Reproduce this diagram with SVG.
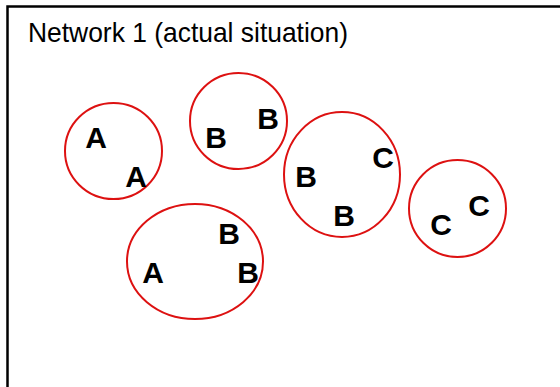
<svg xmlns="http://www.w3.org/2000/svg" width="560" height="387" viewBox="0 0 560 387">
<style>
.g{fill:none;stroke:#dd1111;stroke-width:2}
.l{font-family:"Liberation Sans",Arial,sans-serif;font-size:30px;font-weight:bold;fill:#000;text-anchor:middle}
.t{font-family:"Liberation Sans",Arial,sans-serif;font-size:28px;fill:#000}
</style>
<rect width="560" height="387" fill="#fff"/>
<path d="M7.5 387 V6.5 H560" fill="none" stroke="#000" stroke-width="2.5"/>
<text class="t" x="28" y="42" textLength="320" lengthAdjust="spacingAndGlyphs">Network 1 (actual situation)</text>
<g id="groupA">
<ellipse class="g" cx="113.5" cy="151" rx="48.5" ry="48"/>
<text class="l" x="96" y="148">A</text>
<text class="l" x="136" y="187">A</text>
</g>
<g id="groupBB">
<ellipse class="g" cx="238.5" cy="121" rx="48.5" ry="48"/>
<text class="l" x="216" y="148">B</text>
<text class="l" x="268" y="129">B</text>
</g>
<g id="groupBBC">
<ellipse class="g" cx="342" cy="174.5" rx="58" ry="62.5"/>
<text class="l" x="306" y="187">B</text>
<text class="l" x="344" y="226">B</text>
<text class="l" x="383" y="168">C</text>
</g>
<g id="groupCC">
<ellipse class="g" cx="457.5" cy="208.5" rx="48.5" ry="48.5"/>
<text class="l" x="441" y="235">C</text>
<text class="l" x="479" y="216">C</text>
</g>
<g id="groupABB">
<ellipse class="g" cx="195" cy="261.5" rx="68" ry="57.5"/>
<text class="l" x="153" y="283">A</text>
<text class="l" x="229" y="244">B</text>
<text class="l" x="248" y="283">B</text>
</g>
<g id="connectors"></g>
</svg>
